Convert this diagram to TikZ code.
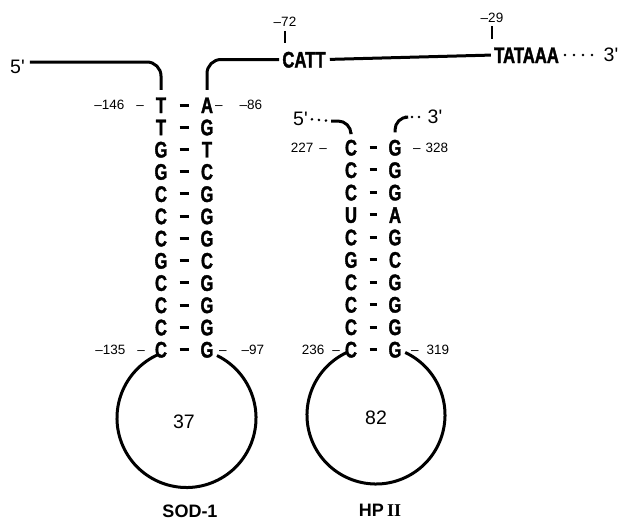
\documentclass[tikz,border=0pt]{standalone}
\usepackage{fontspec}
\setmainfont{Liberation Sans}
\newfontfamily\basefont[FakeStretch=0.74, FakeBold=1.6]{Liberation Sans}
\newfontfamily\romfont{Liberation Serif}
\newfontfamily\primefont[Ligatures=ResetAll]{Liberation Sans}
\usetikzlibrary{positioning,calc}

\begin{document}
\begin{tikzpicture}[
        x=1pt, y=1pt,
        base/.style={inner sep=0pt, text height=16pt, text depth=0pt, font=\basefont\bfseries\fontsize{22.5}{22.5}\selectfont},
        num/.style={inner sep=0pt, font=\fontsize{13.5}{13.5}\selectfont},
        prime/.style={inner sep=0pt, font=\primefont\fontsize{19.5}{19.5}\selectfont},
        title/.style={inner sep=0pt, font=\bfseries\fontsize{18}{18}\selectfont},
        strand/.style={line width=3pt, rounded corners=14pt},
        dots/.style={line width=2.8pt, line cap=round, dash pattern=on 0pt off 9pt},
        pair/.style={line width=3pt, shorten <=18.5pt, shorten >=18.5pt},
        tick/.style={line width=1.5pt},
        ring/.style={line width=3pt}
    ]
    \useasboundingbox (0,0) rectangle (619,-522);

    % Promoter strand
    \node[prime] (sodfive) at (17.5,-67) {5'};
    \node[base] (catt) at (304,-59.5) {CATT};
    \node[base] (tata) at (526.5,-55) {TATAAA};
    \node[prime] (three) at (611,-55) {3'};
    \node[num] (m72) at (285,-22) {–72};
    \node[num] (m29) at (492,-17.5) {–29};

    % SOD-1 stem
    \foreach \l/\r [count=\i] in {T/A,T/G,G/T,G/C,C/G,C/G,C/G,G/C,C/G,C/G,C/G,C/G} {
        \node[base] (s\i) at (161,{-105-22.23*(\i-1)}) {\l};
        \node[base] (t\i) at (207,{-105-22.23*(\i-1)}) {\r};
        \draw[pair] (s\i.center) -- (t\i.center);
    }
    \node[num, anchor=east] (l146) at (144,-105) {–146\hspace{12pt}–};
    \node[num, anchor=west] (l86) at (215,-105) {–\hspace{17pt}–86};
    \node[num, anchor=east] (l135) at (145,-349.5) {–135\hspace{12pt}–};
    \node[num, anchor=west] (l97) at (219,-349.5) {–\hspace{15pt}–97};

    % HP II stem
    \node[prime] (hpfive) at (300.5,-119) {5'};
    \node[prime] (hpthree) at (435,-117) {3'};
    \coordinate (hpl) at (331,-121);
    \coordinate (hpr) at (405,-117);
    \foreach \l/\r [count=\i] in {C/G,C/G,C/G,U/A,C/G,G/C,C/G,C/G,C/G,C/G} {
        \node[base] (h\i) at (351,{-147.5-22.44*(\i-1)}) {\l};
        \node[base] (k\i) at (395,{-147.5-22.44*(\i-1)}) {\r};
        \draw[pair] (h\i.center) -- (k\i.center);
    }
    \node[num, anchor=east] (l227) at (327,-147.5) {227\hspace{6pt}–};
    \node[num, anchor=west] (l328) at (413,-147.5) {–\hspace{5pt}328};
    \node[num, anchor=east] (l236) at (340,-349.5) {236\hspace{8pt}–};
    \node[num, anchor=west] (l319) at (411,-349.5) {–\hspace{8pt}319};

    % Loops
    \coordinate (sodc) at (186.5,-418);
    \coordinate (hpc) at (376,-415);
    \draw[ring] ($(sodc)+(114:69.5)$) arc[start angle=114, end angle=424, radius=69.5];
    \draw[ring] ($(hpc)+(115:69)$) arc[start angle=115, end angle=425, radius=69];
    \node[prime] (n37) at (184,-422) {37};
    \node[prime] (n82) at (376,-418) {82};
    \node[title] (sod) at (190,-511.5) {SOD-1};
    \node[title] (hp) at (380,-510) {HP\,{\romfont\bfseries II}};

    % Strands
    \draw[strand, shorten <=5pt, shorten >=7pt] ([yshift=5pt]sodfive.east) -| (s1.north);
    \draw[strand, shorten <=7pt, shorten >=3pt] (t1.north) |- (catt.west);
    \draw[line width=3pt, shorten <=4pt, shorten >=3pt] (catt.east) -- (tata.west);
    \draw[dots, shorten <=6pt, shorten >=5pt] (tata.east) -- (three.west);
    \draw[tick, shorten <=4pt, shorten >=8pt] (m72.south) -- (m72.south |- catt.north);
    \draw[tick, shorten <=4pt, shorten >=8pt] (m29.south) -- (m29.south |- tata.north);
    \draw[dots, dash pattern=on 0pt off 7pt, shorten <=4pt] (hpfive.east) -- (hpl);
    \draw[strand, rounded corners=13pt, shorten >=7pt] (hpl) -| (h1.north);
    \draw[strand, rounded corners=13pt, shorten <=7pt] (k1.north) |- (hpr);
    \draw[dots, dash pattern=on 0pt off 7pt, shorten >=4pt] (hpr) -- (hpthree.west);

\end{tikzpicture}
\end{document}
